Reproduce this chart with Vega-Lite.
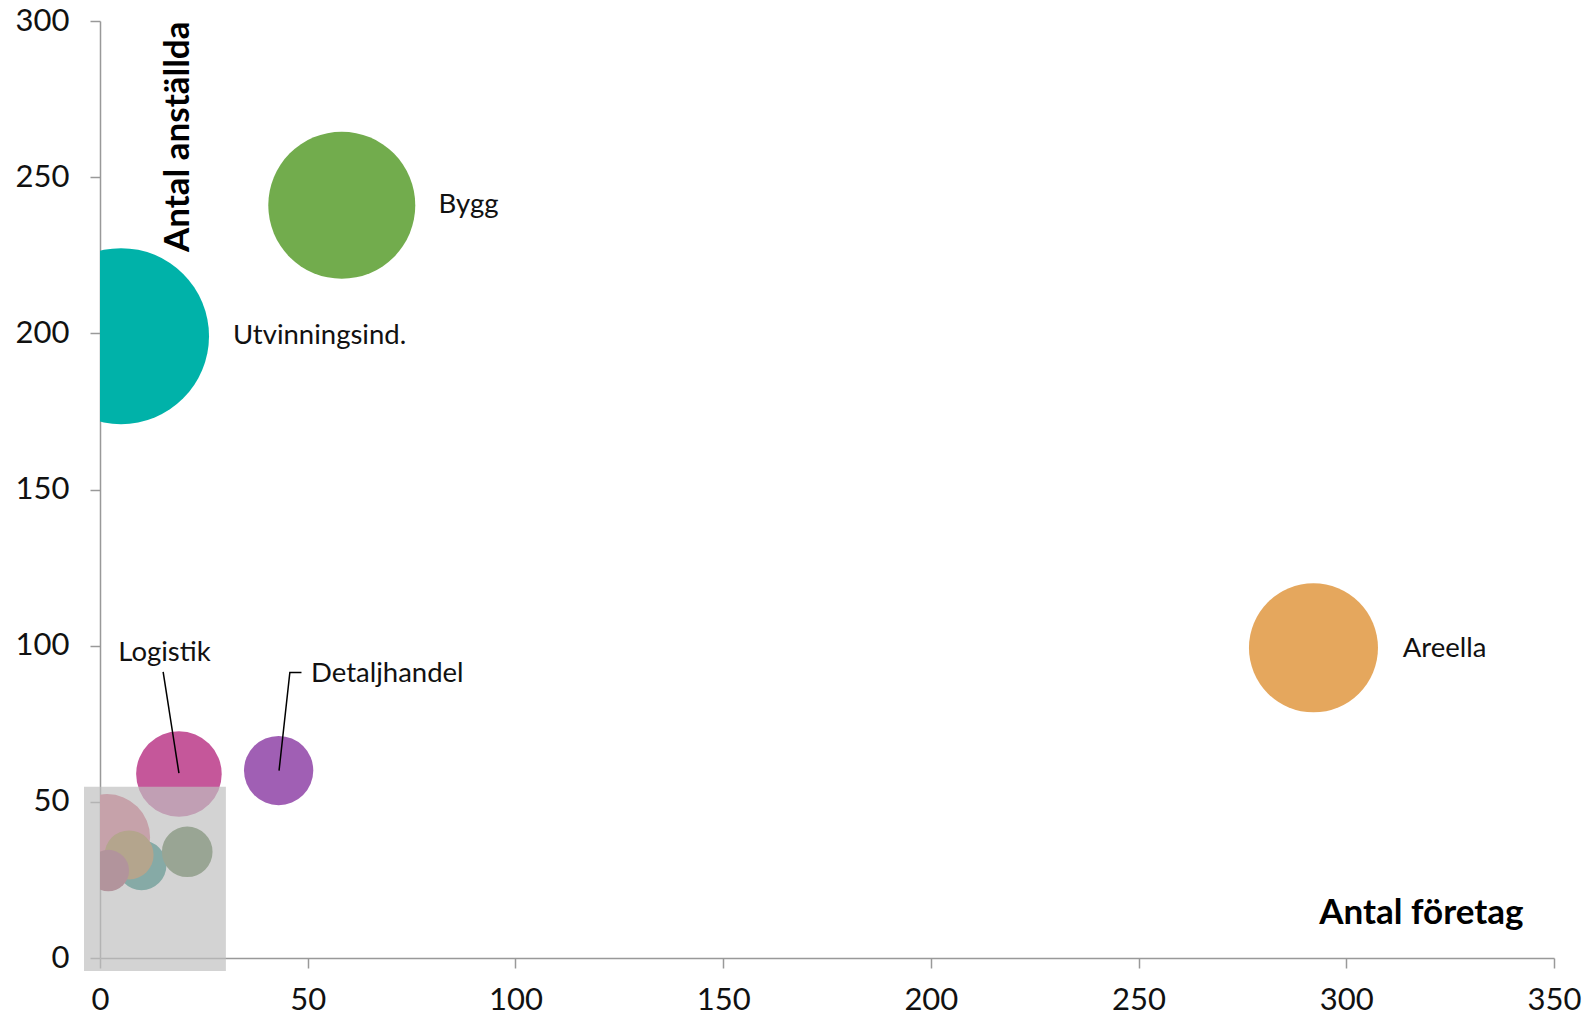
{
  "$schema": "https://vega.github.io/schema/vega-lite/v6.json",
  "width": 1454,
  "height": 937,
  "autosize": "none",
  "padding": {"left": 100, "top": 21, "right": 32, "bottom": 57},
  "background": "white",
  "config": {
    "view": {"stroke": null},
    "font": "Lato",
    "axis": {
      "domainColor": "#999999",
      "domainWidth": 1.5,
      "tickColor": "#999999",
      "tickWidth": 1.5,
      "tickSize": 10,
      "grid": false,
      "labelFont": "Lato",
      "labelFontSize": 31,
      "labelColor": "#111111",
      "labelFontWeight": "normal",
      "titleFont": "Lato",
      "titleFontSize": 35,
      "titleFontWeight": "bold",
      "titleColor": "#000000"
    }
  },
  "encoding": {
    "x": {
      "field": "foretag", "type": "quantitative",
      "scale": {"domain": [0, 350], "nice": false, "zero": false},
      "axis": {
        "values": [0, 50, 100, 150, 200, 250, 300, 350],
        "title": "Antal företag",
        "titleAnchor": null,
        "titleAlign": "right",
        "titleBaseline": "alphabetic",
        "titleX": 1423,
        "titleY": -35,
        "labelPadding": 17,
        "labelFlush": false
      }
    },
    "y": {
      "field": "anstallda", "type": "quantitative",
      "scale": {"domain": [0, 300], "nice": false, "zero": false},
      "axis": {
        "values": [0, 50, 100, 150, 200, 250, 300],
        "title": "Antal anställda",
        "titleAngle": -90,
        "titleAnchor": null,
        "titleAlign": "right",
        "titleBaseline": "alphabetic",
        "titleX": 88,
        "titleY": 0,
        "labelPadding": 21,
        "labelFlush": false
      }
    }
  },
  "layer": [
    {
      "data": {"values": [
        {"bransch": "Utvinningsind.", "foretag": 5.06, "anstallda": 199.1, "omsattning": 774},
        {"bransch": "Bygg", "foretag": 58.2, "anstallda": 241.0, "omsattning": 540},
        {"bransch": "Areella", "foretag": 292.1, "anstallda": 99.3, "omsattning": 416},
        {"bransch": "Logistik", "foretag": 19.0, "anstallda": 58.9, "omsattning": 183},
        {"bransch": "Detaljhandel", "foretag": 43.0, "anstallda": 60.0, "omsattning": 120},
        {"bransch": "Övrigt A", "foretag": 1.7, "anstallda": 38.7, "omsattning": 185},
        {"bransch": "Övrigt B", "foretag": 10.0, "anstallda": 29.7, "omsattning": 62},
        {"bransch": "Övrigt C", "foretag": 7.0, "anstallda": 33.0, "omsattning": 60},
        {"bransch": "Övrigt D", "foretag": 2.0, "anstallda": 28.0, "omsattning": 43},
        {"bransch": "Övrigt E", "foretag": 21.0, "anstallda": 34.0, "omsattning": 64}
      ]},
      "mark": {"type": "circle", "opacity": 1, "clip": true, "strokeWidth": 0},
      "encoding": {
        "size": {
          "field": "omsattning", "type": "quantitative",
          "scale": {"domain": [0, 774], "range": [0, 30976], "zero": true},
          "legend": null
        },
        "color": {
          "field": "bransch", "type": "nominal",
          "scale": {
            "domain": ["Utvinningsind.", "Bygg", "Areella", "Logistik", "Detaljhandel", "Övrigt A", "Övrigt B", "Övrigt C", "Övrigt D", "Övrigt E"],
            "range": ["#00b2a9", "#72ac4d", "#e5a75d", "#c5579a", "#a05fb4", "#d5617b", "#087b6e", "#9b6a1f", "#95354e", "#456b34"]
          },
          "legend": null
        }
      }
    },
    {
      "data": {"values": [{"foretag": -3.85, "foretag2": 30.3, "anstallda": -4.2, "anstallda2": 54.8}]},
      "mark": {"type": "rect", "color": "#bfbfbf", "opacity": 0.69},
      "encoding": {
        "x2": {"field": "foretag2"},
        "y2": {"field": "anstallda2"}
      }
    },
    {
      "data": {"values": [
        {"grp": "Logistik", "ord": 1, "foretag": 15.2, "anstallda": 91.6},
        {"grp": "Logistik", "ord": 2, "foretag": 19.0, "anstallda": 59.2},
        {"grp": "Detaljhandel", "ord": 1, "foretag": 48.5, "anstallda": 91.4},
        {"grp": "Detaljhandel", "ord": 2, "foretag": 45.7, "anstallda": 91.4},
        {"grp": "Detaljhandel", "ord": 3, "foretag": 43.1, "anstallda": 60.0}
      ]},
      "mark": {"type": "line", "color": "#000000", "strokeWidth": 1.5},
      "encoding": {
        "detail": {"field": "grp"},
        "order": {"field": "ord"}
      }
    },
    {
      "data": {"values": [
        {"etikett": "Utvinningsind.", "foretag": 32.0, "anstallda": 199.2},
        {"etikett": "Bygg", "foretag": 81.5, "anstallda": 241.0},
        {"etikett": "Areella", "foretag": 313.6, "anstallda": 98.8},
        {"etikett": "Logistik", "foretag": 4.4, "anstallda": 97.8},
        {"etikett": "Detaljhandel", "foretag": 50.8, "anstallda": 91.0}
      ]},
      "mark": {"type": "text", "align": "left", "baseline": "middle", "font": "Lato", "fontSize": 27.5, "color": "#111111"},
      "encoding": {
        "text": {"field": "etikett"}
      }
    }
  ]
}
